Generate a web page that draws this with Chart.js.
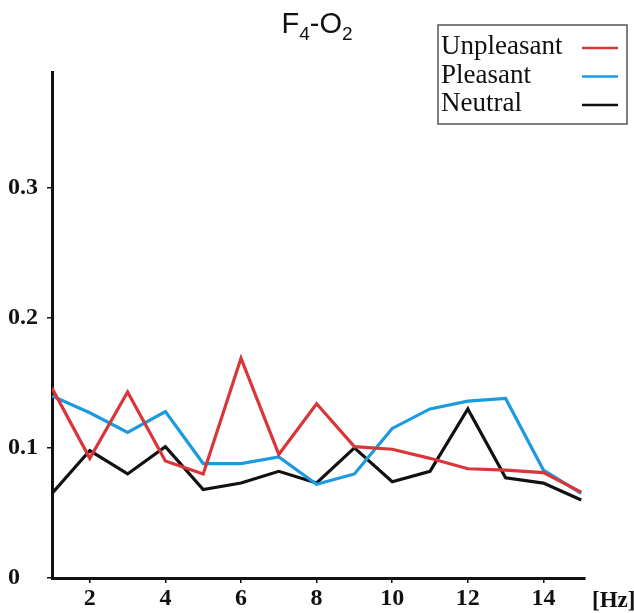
<!DOCTYPE html>
<html>
<head>
<meta charset="utf-8">
<script src="https://cdn.jsdelivr.net/npm/chart.js@4.4.0/dist/chart.umd.min.js"></script>
<style>
  html, body { margin: 0; padding: 0; background: #fff; }
</style>
</head>
<body>
<canvas id="chart" width="634" height="613"></canvas>
<script>
// data
const freqs = [1, 2, 3, 4, 5, 6, 7, 8, 9, 10, 11, 12, 13, 14, 15];
const unpleasant = [0.146, 0.092, 0.143, 0.090, 0.080, 0.169, 0.095, 0.134, 0.101, 0.099, 0.092, 0.084, 0.083, 0.081, 0.066];
const pleasant = [0.140, 0.127, 0.112, 0.128, 0.088, 0.088, 0.093, 0.072, 0.080, 0.115, 0.130, 0.136, 0.138, 0.083, 0.065];
const neutral = [0.065, 0.098, 0.080, 0.101, 0.068, 0.073, 0.082, 0.073, 0.100, 0.074, 0.082, 0.130, 0.077, 0.073, 0.060];
const xTicks = [2, 4, 6, 8, 10, 12, 14];
const yTicks = [0, 0.1, 0.2, 0.3];

const seriesNames = ['Unpleasant', 'Pleasant', 'Neutral'];
const seriesColors = ['#d9363a', '#1b9ae0', '#111111'];

function toPoints(values) {
  return freqs.map((f, i) => ({ x: f, y: values[i] }));
}

// title with real subscripts
const titlePlugin = {
  id: 'titleSub',
  afterDraw(chart) {
    const ctx = chart.ctx;
    const parts = [
      { t: 'F', sub: false }, { t: '4', sub: true },
      { t: '-O', sub: false }, { t: '2', sub: true }
    ];
    const big = '29px "Liberation Sans", Arial, sans-serif';
    const small = '19px "Liberation Sans", Arial, sans-serif';
    ctx.save();
    ctx.fillStyle = '#111';
    ctx.textBaseline = 'alphabetic';
    let total = 0;
    parts.forEach(p => { ctx.font = p.sub ? small : big; total += ctx.measureText(p.t).width; });
    let x = 317 - total / 2;
    parts.forEach(p => {
      ctx.font = p.sub ? small : big;
      ctx.fillText(p.t, x, p.sub ? 40 : 33);
      x += ctx.measureText(p.t).width;
    });
    ctx.restore();
  }
};

// boxed legend: text first, line sample on the right
const legendPlugin = {
  id: 'boxLegend',
  afterDraw(chart) {
    const ctx = chart.ctx;
    ctx.save();
    ctx.strokeStyle = '#555';
    ctx.lineWidth = 1.5;
    ctx.strokeRect(438, 25, 189, 99);
    ctx.font = '27px "Liberation Serif", "Times New Roman", serif';
    ctx.textBaseline = 'alphabetic';
    chart.data.datasets.forEach((ds, i) => {
      const base = 54 + i * 28.5;
      ctx.fillStyle = '#111';
      ctx.fillText(ds.label, 441, base);
      ctx.strokeStyle = ds.borderColor;
      ctx.lineWidth = 2.5;
      ctx.beginPath();
      ctx.moveTo(582, base - 6);
      ctx.lineTo(618, base - 6);
      ctx.stroke();
    });
    // unit label next to the x ticks
    ctx.fillStyle = '#111';
    ctx.font = 'bold 23px "Liberation Serif", "Times New Roman", serif';
    ctx.fillText('[Hz]', 592, 607);
    ctx.restore();
  }
};

const tickFont = { family: '"Liberation Serif", "Times New Roman", serif', size: 24, weight: 'bold' };

new Chart(document.getElementById('chart'), {
  type: 'line',
  data: {
    datasets: [
      { label: seriesNames[0], data: toPoints(unpleasant), borderColor: seriesColors[0] },
      { label: seriesNames[1], data: toPoints(pleasant), borderColor: seriesColors[1] },
      { label: seriesNames[2], data: toPoints(neutral), borderColor: seriesColors[2] }
    ].map(ds => Object.assign(ds, { borderWidth: 3.2, pointRadius: 0, tension: 0, fill: false }))
  },
  options: {
    responsive: false,
    animation: false,
    layout: { padding: { left: 8, top: 72, right: 49, bottom: 0 } },
    plugins: { legend: { display: false }, title: { display: false }, tooltip: { enabled: false } },
    scales: {
      x: {
        type: 'linear',
        min: 1,
        max: 15.1,
        afterBuildTicks: s => { s.ticks = xTicks.map(v => ({ value: v })); },
        afterFit: s => { s.height = 35; },
        border: { color: '#111', width: 3 },
        grid: { drawOnChartArea: false, color: '#111', lineWidth: 1.5, tickLength: 5 },
        ticks: { font: tickFont, color: '#111', padding: 1, maxRotation: 0 }
      },
      y: {
        min: 0,
        max: 0.389,
        afterBuildTicks: s => { s.ticks = yTicks.map(v => ({ value: v })); },
        afterFit: s => { s.width = 44; },
        border: { color: '#111', width: 3 },
        grid: { drawOnChartArea: false, color: '#111', lineWidth: 1.5, tickLength: 5 },
        ticks: {
          font: tickFont, color: '#111', crossAlign: 'far',
          callback: v => (v === 0 ? '0' : v.toFixed(1))
        }
      }
    }
  },
  plugins: [titlePlugin, legendPlugin]
});
</script>
</body>
</html>
